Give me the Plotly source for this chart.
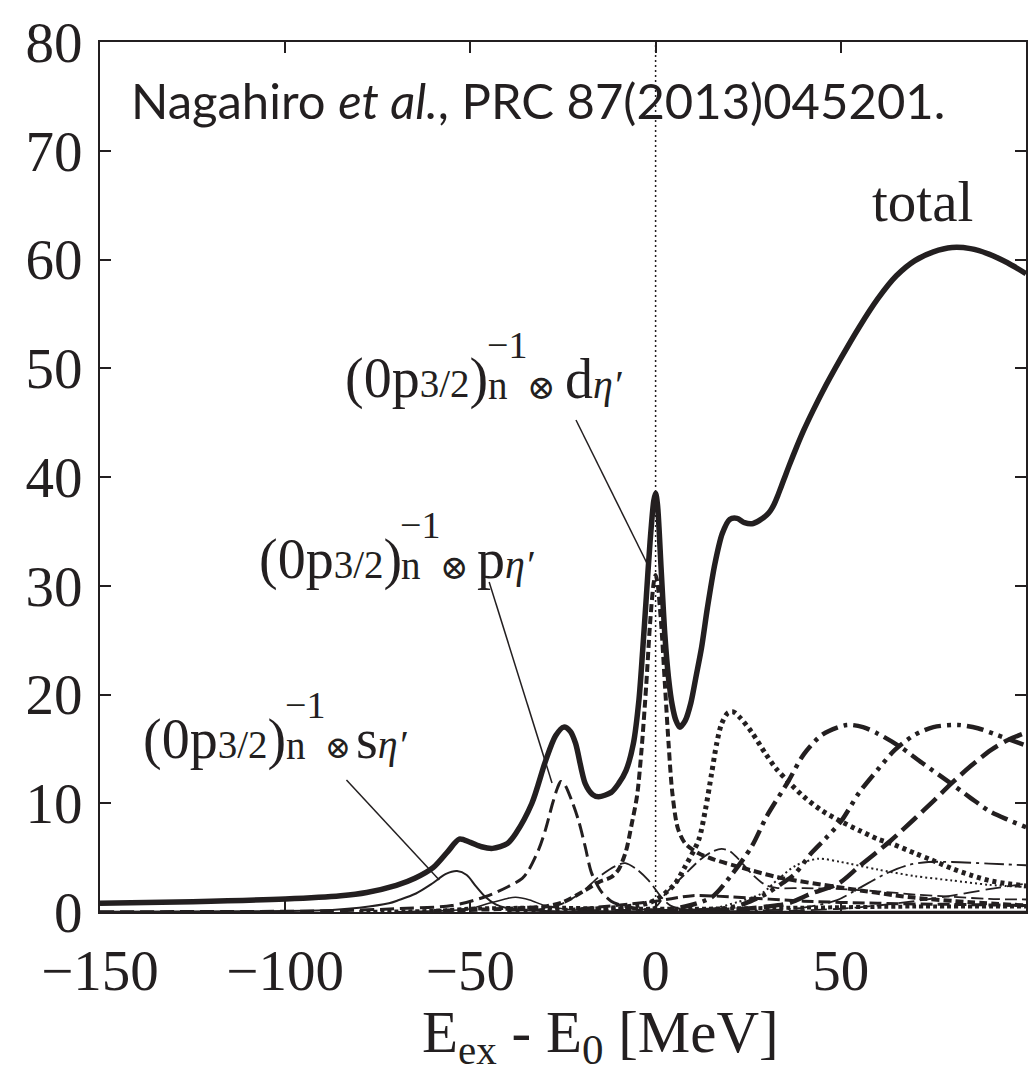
import plotly.graph_objects as go

INK = "#231f20"
SERIF = "Liberation Serif"

# ---------------- spectra: E_ex - E_0 [MeV] vs cross section ----------------
total_E = [-150, -125, -100, -85, -78, -70, -65, -60, -56, -53, -50, -47, -44, -40,
           -37.8, -33.4, -29.7, -27, -24.8, -23, -21.6, -19, -17, -15.4, -12, -10,
           -8, -6, -4.5, -3.5, -2.5, -1.5, -0.5, 0, 0.5, 1.5, 2.5, 3.5, 4.5, 5.5,
           6.5, 8, 9.5, 11, 12.4, 14, 16, 18, 20, 22, 24, 26, 28, 30, 31, 32, 33, 34,
           35, 36, 38, 40, 42.5, 45, 50, 55, 60, 65, 70, 75, 80, 85, 90, 95, 100]
total_S = [0.8, 0.95, 1.2, 1.5, 1.8, 2.45, 3.1, 4.1, 5.6, 6.7, 6.4, 6.0, 5.85, 6.3,
           7.2, 10.0, 13.9, 16.2, 17.0, 16.6, 15.5, 11.8, 10.8, 10.6, 11.0, 11.8,
           13.0, 15.5, 19.5, 24.0, 29.0, 34.0, 37.8, 38.5, 37.5, 31.5, 25.5, 21.5, 19.0, 17.6,
           17.0, 17.6, 19.2, 21.8, 24.3, 28.0, 32.0, 34.8, 36.1, 36.2, 35.8, 35.7, 36.0, 36.5,
           36.9, 37.5, 38.3, 39.2, 40.1, 41.0, 42.7, 44.3, 46.1, 47.8, 50.9, 53.8, 56.4, 58.5,
           59.9, 60.7, 61.1, 61.0, 60.5, 59.7, 58.7]

# (0p3/2)^-1 x s  (thin solid)
s_E = [-150, -110, -90, -80, -72, -69.3, -64.7, -60.4, -56.6, -53.6, -51, -48.6, -46,
       -43.2, -40, -35, -25, 0, 50, 100]
s_S = [0.02, 0.06, 0.15, 0.4, 0.8, 1.1, 1.7, 2.6, 3.5, 3.76, 3.4, 2.4, 1.4,
       0.7, 0.35, 0.15, 0.05, 0.02, 0.02, 0.02]

# (0p3/2)^-1 x p  (dashed)
p_E = [-150, -90, -70, -55, -46, -40, -36, -34.2, -31.5, -29.7, -27.8, -26.5, -25.6,
       -24.5, -22.6, -20.8, -19, -17.3, -14.5, -12, -10, -5, 0, 20]
p_S = [0.03, 0.1, 0.3, 0.6, 1.4, 2.3, 3.1, 3.9, 5.8, 7.6, 10.0, 11.4, 12.0,
       11.7, 10.2, 8.4, 6.0, 3.6, 1.8, 1.0, 0.7, 0.3, 0.15, 0.05]

# (0p3/2)^-1 x d  (short thick dashes)
d_E = [-60, -40, -30, -25, -19, -15, -12, -10, -8, -6.5, -5, -3.8, -2.5, -1.5, -0.5, 0,
       0.5, 1.5, 2.5, 3.5, 4.5, 6, 8, 11.6, 16, 22, 33, 51, 69, 85, 100]
d_S = [0.1, 0.3, 0.5, 0.9, 2.0, 2.8, 3.2, 3.9, 5.6, 8.0, 10.7, 14.9, 21.0, 26.5, 30.3, 31.0,
       30.3, 26.5, 21.0, 15.5, 11.0, 7.7, 6.3, 5.4, 4.8, 4.2, 3.2, 2.2, 1.35, 0.9, 0.6]

# other configurations
dot_thick_E = [-40, -20, -5, 0, 5, 8, 11.6, 13.5, 15.1, 16.5, 17.8, 19.5, 21, 23, 26,
               29.6, 32.5, 35.8, 40, 45, 50.2, 55, 60, 63.6, 70, 74.4, 80, 85, 90, 95, 100]
dot_thick_S = [0.05, 0.2, 0.6, 1.1, 2.5, 4.2, 6.6, 9.5, 12.7, 15.5, 17.3, 18.3, 18.4, 17.8, 16.5,
               14.6, 13.2, 12.0, 10.6, 9.3, 8.3, 7.5, 6.7, 6.3, 5.4, 4.8, 4.0, 3.4, 2.9, 2.6, 2.4]

dashdot_E = [-20, 0, 8, 15.1, 20, 25.9, 30, 35.8, 40, 45, 51.6, 56, 60, 66, 72, 79.8, 85, 90, 95, 100]
dashdot_S = [0.05, 0.15, 0.5, 1.35, 3.2, 6.0, 8.8, 12.0, 14.5, 16.3, 17.2, 17.0, 16.4, 15.2,
             13.7, 11.8, 10.5, 9.3, 8.5, 7.8]

dashdotdot_E = [0, 15, 20, 24.2, 30, 34, 37.6, 42, 46, 50.2, 55, 60, 64.6, 70, 75, 81.7,
                87, 92, 96, 100]
dashdotdot_S = [0.05, 0.2, 0.4, 0.8, 1.7, 2.6, 3.5, 5.4, 6.8, 8.4, 11.0, 13.1, 14.9, 16.3,
                17.0, 17.2, 16.9, 16.3, 15.8, 15.3]

longdash_E = [0, 20, 30, 35.8, 42, 49.3, 55, 63.6, 70, 75, 79.8, 85, 90.6, 95, 100]
longdash_S = [0.05, 0.2, 0.5, 0.8, 1.7, 2.6, 4.2, 6.6, 8.6, 10.2, 11.8, 13.4, 14.9, 15.8, 16.5]

thin_dash_a_E = [-40, -30, -25, -20, -15.4, -11, -8.2, -5, -1.9, 1.6, 4, 8, 20]
thin_dash_a_S = [0.1, 0.3, 0.8, 1.8, 3.2, 4.2, 4.5, 3.9, 2.9, 1.35, 0.6, 0.2, 0.05]

thin_dash_b_E = [-10, 0, 2.7, 8, 12, 15, 17.8, 20, 22, 26, 29.6, 33, 40, 50, 60, 70, 80, 90, 100]
thin_dash_b_S = [0.1, 0.5, 1.7, 3.5, 4.8, 5.5, 5.8, 5.6, 5.0, 3.5, 2.5, 2.2, 2.2, 2.1, 1.9,
                 1.6, 1.4, 1.2, 1.15]

thin_dot_E = [0, 15, 22, 28.6, 33, 38, 44, 50, 60, 70, 80, 90, 100]
thin_dot_S = [0.05, 0.3, 0.9, 1.7, 3.0, 4.3, 4.9, 4.6, 3.9, 3.3, 2.9, 2.5, 2.3]

thin_dashdot_E = [20, 40, 49, 55, 62, 68, 73.6, 80, 90, 100]
thin_dashdot_S = [0.05, 0.4, 1.1, 2.2, 3.5, 4.3, 4.6, 4.6, 4.45, 4.3]

thin_dash_c_E = [30, 50, 60, 70, 80, 90, 100]
thin_dash_c_S = [0.05, 0.3, 0.6, 1.0, 1.5, 2.1, 2.6]

thin_solid_b_E = [-70, -55, -50, -45, -40, -37.8, -34, -30, -25, -20, -10]
thin_solid_b_S = [0.02, 0.15, 0.3, 0.8, 1.25, 1.35, 1.1, 0.6, 0.3, 0.15, 0.05]

low_dash_E = [-20, 0, 10, 20, 40, 60, 80, 100]
low_dash_S = [0.3, 1.0, 1.5, 1.4, 1.0, 0.8, 0.7, 0.6]

low_dot_E = [-80, -60, -50, -30, -10, 10, 40, 70, 100]
low_dot_S = [0.02, 0.1, 0.3, 0.4, 0.3, 0.3, 0.4, 0.5, 0.5]

# axis ticks
x_ticks = [-150, -100, -50, 0, 50]
x_tick_text = ["\u2212150", "\u2212100", "\u221250", "0", "50"]
y_ticks = [0, 10, 20, 30, 40, 50, 60, 70, 80]

THRESHOLD_E = 0  # eta' production threshold

fig = go.Figure()


def add_curve(E, S, width, dash):
    fig.add_trace(go.Scatter(
        x=E, y=S, mode="lines", showlegend=False, hoverinfo="skip",
        line=dict(color=INK, width=width, dash=dash, shape="spline", smoothing=0.8)))


add_curve(low_dot_E, low_dot_S, 4, "4px,3px")
add_curve(low_dash_E, low_dash_S, 3, "12px,5px")
add_curve(thin_solid_b_E, thin_solid_b_S, 1.6, "solid")
add_curve(thin_dash_c_E, thin_dash_c_S, 1.8, "16px,6px")
add_curve(thin_dashdot_E, thin_dashdot_S, 1.8, "20px,5px,3px,5px")
add_curve(thin_dot_E, thin_dot_S, 2, "2px,3px")
add_curve(thin_dash_b_E, thin_dash_b_S, 1.8, "12px,5px")
add_curve(thin_dash_a_E, thin_dash_a_S, 1.8, "16px,5px")
add_curve(longdash_E, longdash_S, 4.5, "20px,7px")
add_curve(dashdotdot_E, dashdotdot_S, 4.5, "17px,6px,4px,6px,4px,6px")
add_curve(dashdot_E, dashdot_S, 4.5, "17px,6px,4px,6px")
add_curve(dot_thick_E, dot_thick_S, 5, "4px,4px")
add_curve(d_E, d_S, 4, "8px,4px")
add_curve(p_E, p_S, 3, "14px,6px")
add_curve(s_E, s_S, 2, "solid")
add_curve(total_E, total_S, 5.5, "solid")

fig.add_vline(x=THRESHOLD_E, line=dict(color=INK, width=1.5, dash="2px,3px"))

# plot area in layout pixels
W, H = 1029, 1073
ML, MR, MT, MB = 100, 1, 42, 161
PW, PH = W - ML - MR, H - MT - MB


def px(xp):
    return (xp - ML) / PW


def py(yp):
    return (H - MB - yp) / PH


def text(x, y, s, size, family=SERIF, xanchor="left", yanchor="middle"):
    fig.add_annotation(x=px(x), y=py(y), xref="paper", yref="paper", text=s,
                       showarrow=False, xanchor=xanchor, yanchor=yanchor, borderpad=0,
                       font=dict(family=family, size=size, color=INK))


def leader(x0, y0, x1, y1):
    fig.add_shape(type="line", xref="paper", yref="paper",
                  x0=px(x0), y0=py(y0), x1=px(x1), y1=py(y1),
                  line=dict(color=INK, width=1.5))


def small(s, size=39, italic=False):
    style = "font-size:%dpx" % size
    body = "<i>%s</i>" % s if italic else s
    return '<span style="%s">%s</span>' % (style, body)


def state_label(x, base, orbit, orbit_dx, otimes_size):
    # x: left edge of the bracket, base: text baseline
    text(x, base - 19, "(0p" + small("3/2") + ")", 56)
    text(x + 143, base - 13, "n", 39)
    text(x + 142, base - 53, "\u22121", 38)
    text(x + 182, base - 11, "\u2297", otimes_size, family="DejaVu Serif")
    text(x + orbit_dx, base - 19, orbit + small("\u03b7\u2032", 40, italic=True), 56)


state_label(345, 398, "d", 220, 34)
state_label(258, 578, "p", 219, 34)
state_label(142, 758, "s", 214, 31)
leader(577, 420, 650, 567)
leader(490, 582, 553, 783)
leader(347, 780, 440, 880)

text(873, 201, "total", 57)
text(130, 100, "Nagahiro <i>et al.</i>, PRC 87(2013)045201.", 49, family="Lato")
text(602, 1036, "E<sub>" + small("ex", 41) + "</sub> - E<sub>" + small("0", 43)
     + "</sub> [MeV]", 59, xanchor="center")

axis_common = dict(showline=True, mirror="ticks", linecolor=INK, linewidth=2,
                   ticks="inside", ticklen=11, tickwidth=1.5, tickcolor=INK,
                   showgrid=False, zeroline=False,
                   tickfont=dict(family=SERIF, size=57, color=INK))

fig.update_layout(
    width=W, height=H, margin=dict(l=ML, r=MR, t=MT, b=MB, pad=0),
    paper_bgcolor="white", plot_bgcolor="white",
    xaxis=dict(range=[-150, 100], tickvals=x_ticks, ticktext=x_tick_text,
               ticklabelstandoff=8, **axis_common),
    yaxis=dict(range=[0, 80], tickvals=y_ticks, ticklabelstandoff=4, **axis_common),
)

fig.write_html("out.html")
